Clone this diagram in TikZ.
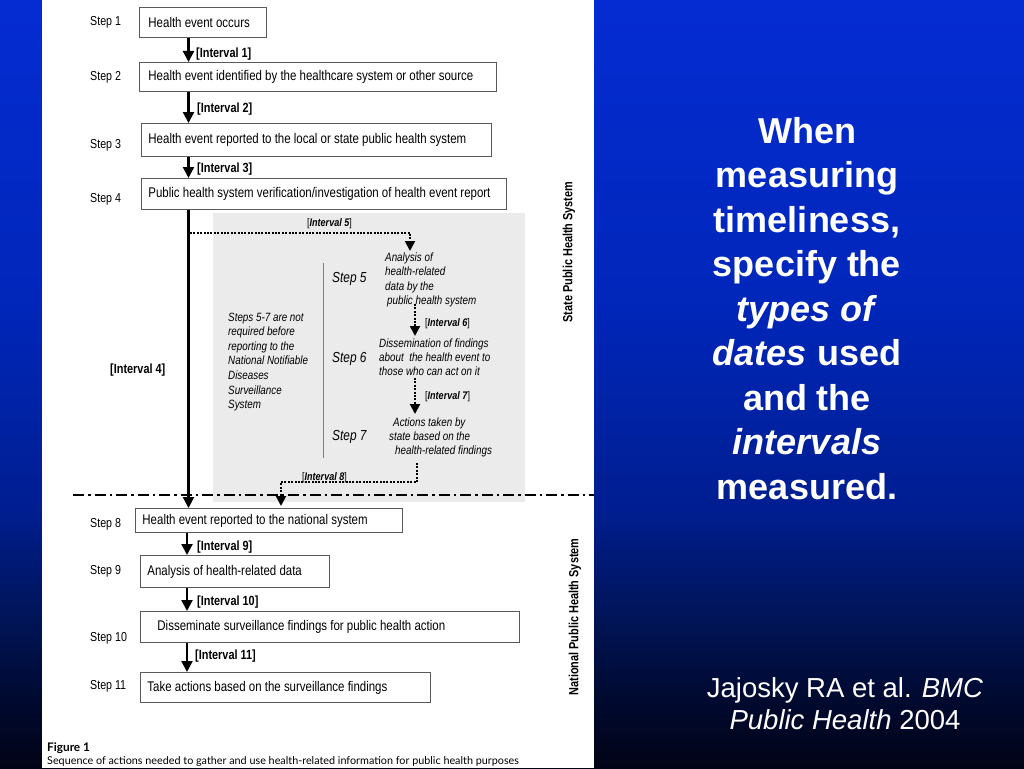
\documentclass[tikz,border=0pt]{standalone}
\usepackage{fontspec}
\setmainfont{Liberation Sans}
\newfontfamily\nar[FakeStretch=0.82]{Liberation Sans}
\newfontfamily\capf{Lato}
\usetikzlibrary{arrows.meta}
\definecolor{bgA}{RGB}{2,3,22}
\definecolor{bgB}{RGB}{0,10,48}
\definecolor{bgC}{RGB}{0,20,85}
\definecolor{bgD}{RGB}{0,30,145}
\definecolor{bgE}{RGB}{0,38,185}
\definecolor{bgF}{RGB}{5,44,210}
\pgfdeclareverticalshading{slidebg}{100bp}{%
  color(0bp)=(bgA); color(25bp)=(bgA); color(29.5bp)=(bgB); color(34.5bp)=(bgC);
  color(42bp)=(bgD); color(55bp)=(bgE); color(75bp)=(bgF); color(100bp)=(bgF)}
\tikzset{
  bx/.style={draw=black!65, line width=0.9pt, fill=white, anchor=north west,
    inner xsep=0pt, inner ysep=0pt, font=\nar\fontsize{14}{16}\selectfont},
  steplab/.style={anchor=base west, inner sep=0pt, font=\nar\fontsize{13}{15}\selectfont},
  ivlab/.style={anchor=base west, inner sep=0pt, font=\nar\bfseries\fontsize{13.3}{15}\selectfont},
  ivital/.style={anchor=base west, inner sep=0pt, font=\nar\fontsize{11}{13}\selectfont},
  note/.style={anchor=base west, inner sep=0pt, align=left, font=\nar\itshape\fontsize{12}{14.6}\selectfont},
  stepit/.style={anchor=base west, inner sep=0pt, font=\nar\itshape\fontsize{14.5}{16}\selectfont},
  sidelab/.style={rotate=90, inner sep=0pt, font=\nar\bfseries\fontsize{13.3}{15}\selectfont},
  arr/.style={line width=2.2pt, -{Triangle[length=11pt,width=11pt]}},
  darr/.style={line width=2pt, dash pattern=on 2pt off 1.4pt, -{Triangle[length=10pt,width=10pt]}},
  bigtxt/.style={anchor=base, inner sep=0pt, text=white, font=\bfseries\fontsize{36}{44}\selectfont},
  citetxt/.style={anchor=base, inner sep=0pt, text=white, font=\fontsize{27.5}{32}\selectfont},
  captxt/.style={anchor=base west, inner sep=0pt, font=\capf\fontsize{10.8}{12}\selectfont}
}
\begin{document}
\begin{tikzpicture}[x=1pt,y=-1pt]
\useasboundingbox (0,0) rectangle (1024,768);
\shade[shading=slidebg] (0,0) rectangle (1024,768);
\fill[white] (42,0) rectangle (594,768);
% gray region
\fill[black!8] (213,213) rectangle (525,502);
\coordinate (vlt) at (323,263);
\coordinate (vlb) at (323,458);
\draw[black!50, line width=0.8pt] (vlt) -- (vlb);
% dash-dot separator
\coordinate (dl) at (73,495);
\coordinate (dr) at (594,495);
\draw[line width=1.8pt, dash pattern=on 11pt off 4pt on 2.5pt off 4pt] (dl) -- (dr);

% boxes
\node[bx, minimum width=127pt, minimum height=30pt] (b1) at (139,7) {\makebox[127pt][l]{\hspace{9pt}Health event occurs}};
\node[bx, minimum width=357pt, minimum height=29pt] (b2) at (139,62) {\makebox[357pt][l]{\hspace{9pt}Health event identified by the healthcare system or other source}};
\node[bx, minimum width=350pt, minimum height=33pt] (b3) at (141,123) {\makebox[350pt][l]{\hspace{7pt}Health event reported to the local or state public health system}};
\node[bx, minimum width=365pt, minimum height=31pt] (b4) at (141,178) {\makebox[365pt][l]{\hspace{7pt}Public health system verification/investigation of health event report}};
\node[bx, minimum width=267pt, minimum height=24pt] (b8) at (135,508) {\makebox[267pt][l]{\hspace{7pt}Health event reported to the national system}};
\node[bx, minimum width=189pt, minimum height=32pt] (b9) at (140,555) {\makebox[189pt][l]{\hspace{7pt}\raisebox{-1.5pt}{Analysis of health-related data}}};
\node[bx, minimum width=379pt, minimum height=31pt] (b10) at (140,611) {\makebox[379pt][l]{\hspace{17pt}Disseminate surveillance findings for public health action}};
\node[bx, minimum width=290pt, minimum height=30pt] (b11) at (140,672) {\makebox[290pt][l]{\hspace{7pt}\raisebox{-3pt}{Take actions based on the surveillance findings}}};

% step labels
\node[steplab] (s1) at (90,25.5) {Step 1};
\node[steplab] (s2) at (90,80) {Step 2};
\node[steplab] (s3) at (90,148) {Step 3};
\node[steplab] (s4) at (90,202) {Step 4};
\node[steplab] (s8) at (90,527) {Step 8};
\node[steplab] (s9) at (90,574) {Step 9};
\node[steplab] (s10) at (90,641) {Step 10};
\node[steplab] (s11) at (90,689) {Step 11};

% solid arrows
\coordinate (ax) at (188.5,0);
\coordinate (ay) at (187,0);
\draw[arr] (b1.south -| ax) -- (b2.north -| ax);
\draw[arr] (b2.south -| ax) -- (b3.north -| ax);
\draw[arr] (b3.south -| ax) -- (b4.north -| ax);
\draw[arr] (b4.south -| ax) -- (b8.north -| ax);
\draw[arr] (b8.south -| ay) -- (b9.north -| ay);
\draw[arr] (b9.south -| ay) -- (b10.north -| ay);
\draw[arr] (b10.south -| ay) -- (b11.north -| ay);

% interval labels
\node[ivlab] (i1) at (196,57) {[Interval 1]};
\node[ivlab] (i2) at (197,112) {[Interval 2]};
\node[ivlab] (i3) at (197,172) {[Interval 3]};
\node[ivlab] (i4) at (110,373) {[Interval 4]};
\node[ivlab] (i9) at (197,550) {[Interval 9]};
\node[ivlab] (i10) at (197,605) {[Interval 10]};
\node[ivlab] (i11) at (195,659) {[Interval 11]};

% dotted arrows
\coordinate (i5s) at (190,233);
\coordinate (i5e) at (410,251);
\draw[darr] (i5s) -| (i5e);
\coordinate (i6s) at (415,304);
\coordinate (i6e) at (415,336);
\draw[darr] (i6s) -- (i6e);
\coordinate (i7s) at (415,378);
\coordinate (i7e) at (415,414);
\draw[darr] (i7s) -- (i7e);
\coordinate (i8s) at (417,463);
\coordinate (i8m) at (417,482);
\coordinate (i8e) at (281,506);
\draw[darr] (i8s) -- (i8m) -| (i8e);

\node[ivital] (l5) at (307,226) {[\textbf{\textit{Interval 5}}]};
\node[ivital] (l6) at (425,326) {[\textbf{\textit{Interval 6}}]};
\node[ivital] (l7) at (425,399) {[\textbf{\textit{Interval 7}}]};
\node[ivital] (l8) at (302,480) {[\textbf{\textit{Interval 8}}]};

% italic notes (anchored at the baseline of their last line)
\node[note] (nl) at (228,408.6) {Steps 5-7 are not\\required before\\reporting to the\\National Notifiable\\Diseases\\Surveillance\\System};
\node[note] (t5) at (385,304.8) {Analysis of\\health-related\\data by the\\\hspace*{2pt}public health system};
\node[note, font=\nar\itshape\fontsize{12}{14}\selectfont] (t6) at (379,375) {Dissemination of findings\\about\ \ the health event to\\those who can act on it};
\node[note, font=\nar\itshape\fontsize{12}{14.2}\selectfont] (t7) at (389,454.4) {\hspace*{4pt}Actions taken by\\state based on the\\\hspace*{6pt}health-related findings};
\node[stepit] (s5) at (332,282) {Step 5};
\node[stepit] (s6) at (332,362) {Step 6};
\node[stepit] (s7) at (332,440) {Step 7};

% side labels
\node[sidelab] (st) at (569,252) {State Public Health System};
\node[sidelab] (na) at (575,617) {National Public Health System};

% caption
\node[captxt, font=\capf\bfseries\fontsize{11.8}{13}\selectfont] (fig) at (47,751) {Figure 1};
\node[captxt] (cap) at (47,764) {Sequence of actions needed to gather and use health-related information for public health purposes};

% right text
\node[bigtxt] (r1) at (807,143) {When};
\node[bigtxt] (r2) at (807,187.5) {measuring};
\node[bigtxt] (r3) at (807,232) {timeliness,};
\node[bigtxt] (r4) at (807,276.5) {specify the};
\node[bigtxt] (r5) at (807,321) {\textit{types of}};
\node[bigtxt] (r6) at (807,365.5) {\textit{dates} used};
\node[bigtxt] (r7) at (807,410) {and the};
\node[bigtxt] (r8) at (807,454.5) {\textit{intervals}};
\node[bigtxt] (r9) at (807,499) {measured.};

\node[citetxt] (c1) at (845,697) {Jajosky RA et al. \textit{BMC}};
\node[citetxt] (c2) at (845,729) {\textit{Public Health} 2004};
\end{tikzpicture}
\end{document}
